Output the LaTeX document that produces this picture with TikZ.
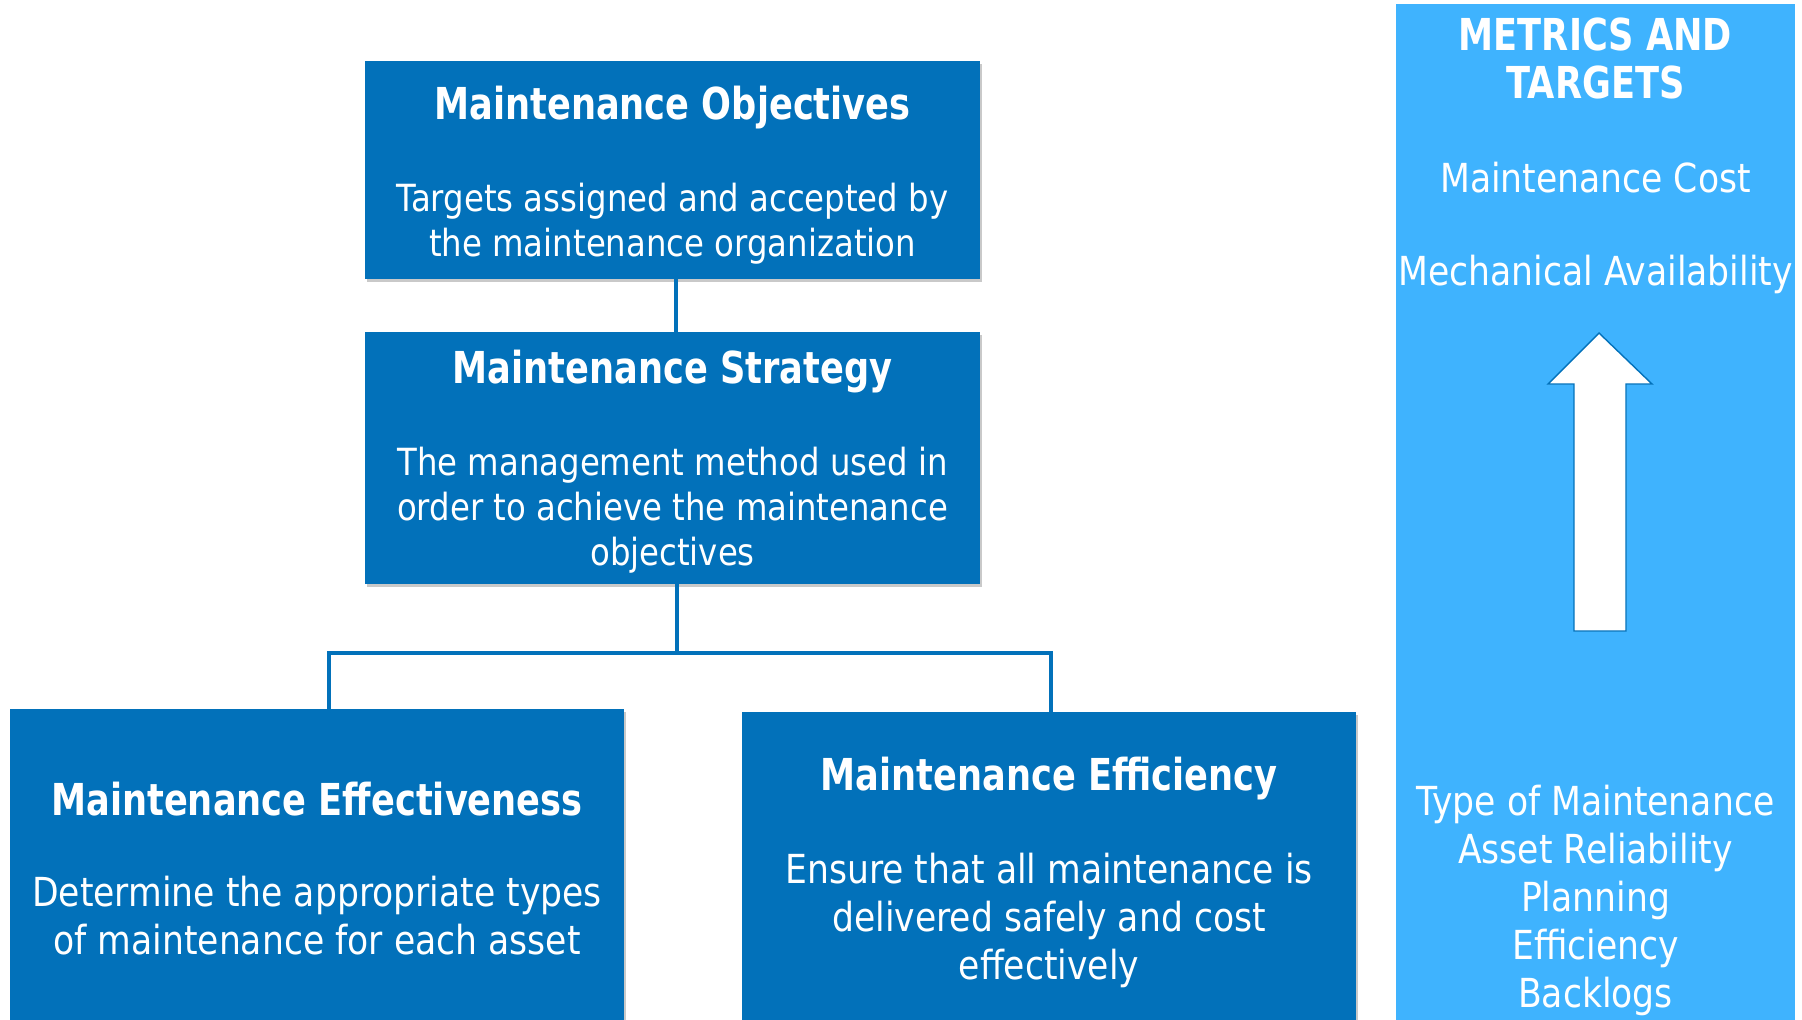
\documentclass[tikz,border=0pt]{standalone}
\usepackage{fontspec}
\setmainfont{DejaVu Sans}
\newfontfamily\bodyf[FakeStretch=0.865]{DejaVu Sans}
\newfontfamily\titlef[FakeStretch=0.8]{DejaVu Sans}
\usetikzlibrary{shadows}
\definecolor{dblue}{RGB}{2,113,186}
\definecolor{lblue}{RGB}{63,179,254}
\tikzset{
  box/.style={rectangle, fill=dblue, inner sep=0pt, outer sep=0pt,
    drop shadow={shadow xshift=1.2pt, shadow yshift=-1.5pt, opacity=0.35, fill=black!60}},
  panel/.style={rectangle, fill=lblue, inner sep=0pt, outer sep=0pt},
  ttl/.style={text=white, align=center, inner sep=0pt, font=\titlef\bfseries\fontsize{22pt}{26pt}\selectfont},
  bodysm/.style={text=white, align=center, inner sep=0pt, font=\bodyf\fontsize{18.7pt}{22.5pt}\selectfont},
  bodylg/.style={text=white, align=center, inner sep=0pt, font=\bodyf\fontsize{20pt}{24pt}\selectfont},
  conn/.style={draw=dblue, line width=1.9pt},
  bigarrow/.style={fill=white, draw=dblue, line width=0.7pt, line join=miter}
}
\begin{document}
\begin{tikzpicture}[x=0.5pt, y=-0.5pt]
\useasboundingbox (0,0) rectangle (1802,1019);
\clip (0,0) rectangle (1802,1019);
\fill[white] (0,0) rectangle (1802,1019);

% boxes
\node[box, minimum width=307.5pt, minimum height=109pt] (obj) at (672.5,170) {};
\node[box, minimum width=307.5pt, minimum height=126pt] (str) at (672.5,458) {};
\node[box, minimum width=307pt, minimum height=160pt] (eff) at (317,868.5) {};
\node[box, minimum width=307pt, minimum height=158pt] (effi) at (1049,870) {};
\node[panel, minimum width=199.5pt, minimum height=510pt] (pan) at (1595.5,514) {};

% connectors
\coordinate (c1) at (676,0);
\coordinate (c2) at (677,0);
\coordinate (busL) at (329,653);
\coordinate (busR) at (1051,653);
\draw[conn] (obj.south -| c1) -- (str.north -| c1);
\draw[conn] (str.south -| c2) -- (busL -| c2);
\draw[conn] ([xshift=-0.95pt]busL) -- ([xshift=0.95pt]busR);
\draw[conn] (busL) -- (busL |- eff.north);
\draw[conn] (busR) -- (busR |- effi.north);

% texts
\node[ttl] (objT) at (672.5,108) {Maintenance Objectives};
\node[bodysm] (objB) at (672.5,224) {Targets assigned and accepted by\\the maintenance organization};
\node[ttl] (strT) at (672.5,372) {Maintenance Strategy};
\node[bodysm] (strB) at (672.5,510) {The management method used in\\order to achieve the maintenance\\objectives};
\node[ttl] (effT) at (317,799) {Maintenance Effectiveness};
\node[bodylg] (effB) at (317,916) {Determine the appropriate types\\of maintenance for each asset};
\node[ttl] (effiT) at (1049,779) {Maintenance Efficiency};
\node[bodylg] (effiB) at (1049,920) {Ensure that all maintenance is\\delivered safely and cost\\effectively};

% panel texts
\node[ttl, font=\titlef\bfseries\fontsize{22pt}{24pt}\selectfont] (panT) at (1595.5,58) {METRICS AND\\TARGETS};
\node[bodylg] (cost) at (1595.5,178) {Maintenance Cost};
\node[bodylg] (avail) at (1595.5,274) {Mechanical Availability};
\node[bodylg] (list) at (1595.5,900) {Type of Maintenance\\Asset Reliability\\Planning\\Efficiency\\Backlogs};

% big arrow
\draw[bigarrow] (1599,333) -- (1652,384) -- (1626,384) -- (1626,631) -- (1574,631) -- (1574,384) -- (1548,384) -- cycle;
\end{tikzpicture}
\end{document}
